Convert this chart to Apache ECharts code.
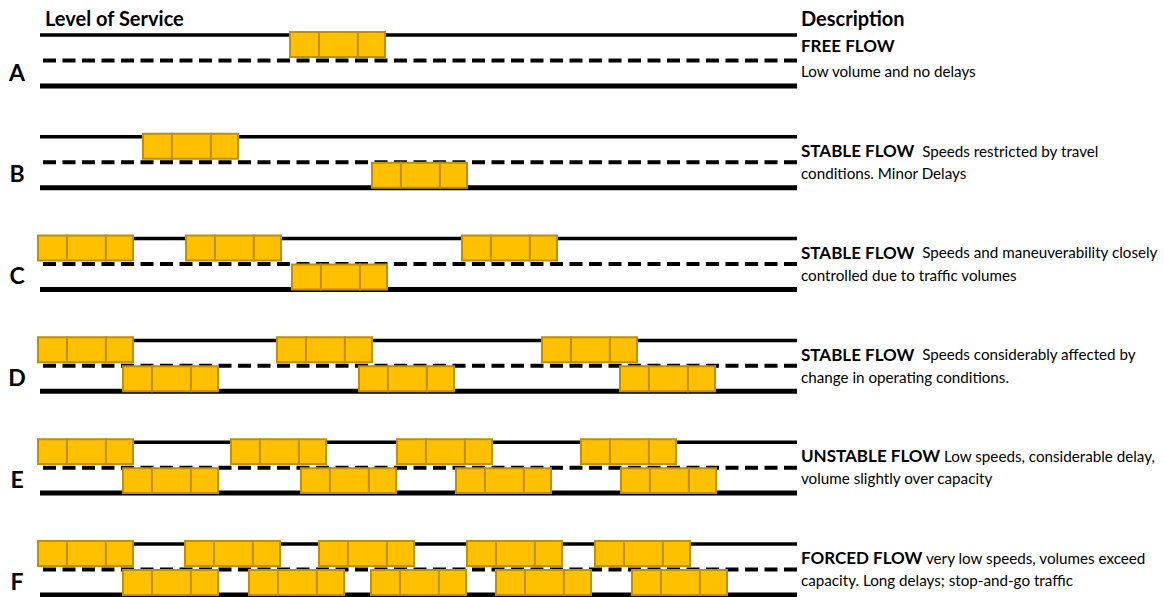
<!DOCTYPE html>
<html>
<head>
<meta charset="utf-8">
<script src="https://cdn.jsdelivr.net/npm/echarts@6/dist/echarts.min.js"></script>
<style>
html,body{margin:0;padding:0;background:#fff;}
#chart{width:1164px;height:597px;}
</style>
</head>
<body>
<div id="chart"></div>
<script>
// ---- data ----
const levels = ['A', 'B', 'C', 'D', 'E', 'F'];
const flowTitles = ['FREE FLOW', 'STABLE FLOW', 'STABLE FLOW', 'STABLE FLOW', 'UNSTABLE FLOW', 'FORCED FLOW'];
const descLine1 = ['', '  Speeds restricted by travel', '  Speeds and maneuverability closely', '  Speeds considerably affected by', ' Low speeds, considerable delay,', ' very low speeds, volumes exceed'];
const descLine2 = ['Low volume and no delays', 'conditions. Minor Delays', 'controlled due to traffic volumes', 'change in operating conditions.', 'volume slightly over capacity', 'capacity. Long delays; stop-and-go traffic'];
// car start positions along the road (road units), per level
const upperLaneCars = [
  [250],
  [103],
  [-2, 146, 422],
  [-2, 237, 502],
  [-2, 191, 357, 541],
  [-2, 145, 279, 427, 555]
];
const lowerLaneCars = [
  [],
  [332],
  [252],
  [83, 319, 580],
  [83, 261, 416, 581],
  [83, 209, 331, 456, 592]
];
const roadLength = 757;
const carLength = 95;
const headerLeft = 'Level of Service';
const headerRight = 'Description';

// ---- build ----
const carData = [];
levels.forEach((lv, i) => {
  upperLaneCars[i].forEach(x => carData.push([x, i, 0]));
  lowerLaneCars[i].forEach(x => carData.push([x, i, 1]));
});
const roadData = levels.map((lv, i) => [i]);

const FONT = 'Lato, "Open Sans", sans-serif';
const partRatio = [0.305, 0.41, 0.285];

function renderRoad(params, api) {
  const i = api.value(0);
  const xs = api.coord([0, i])[0];
  const xe = api.coord([roadLength, i])[0];
  const yTop = api.coord([0, i])[1];
  const yDash = api.coord([0, i + 0.25])[1];
  const yBot = api.coord([0, i + 0.5])[1];
  const xText = api.coord([roadLength + 4, i])[0];
  const yL1 = api.coord([0, i + (i === 0 ? 0.10 : 0.135)])[1];
  const yL2 = api.coord([0, i + 0.355])[1];
  const yLetter = api.coord([0, i + 0.36])[1];
  return {
    type: 'group',
    children: [
      { type: 'line', shape: { x1: xs, y1: yTop, x2: xe, y2: yTop }, style: { stroke: '#000', lineWidth: 3.5 } },
      { type: 'line', shape: { x1: xs + 3, y1: yDash, x2: xe, y2: yDash }, style: { stroke: '#000', lineWidth: 4, lineDash: [13, 6.5] } },
      { type: 'line', shape: { x1: xs, y1: yBot, x2: xe, y2: yBot }, style: { stroke: '#000', lineWidth: 5 } },
      { type: 'text', style: { text: levels[i], x: 17, y: yLetter, align: 'center', verticalAlign: 'middle', font: 'bold 23px ' + FONT, fill: '#000' } },
      { type: 'text', style: {
          text: '{t|' + flowTitles[i] + '}{d|' + descLine1[i] + '}',
          x: xText, y: yL1, verticalAlign: 'middle',
          rich: {
            t: { fontFamily: FONT, fontWeight: 'bold', fontSize: 17, fill: '#000' },
            d: { fontFamily: FONT, fontSize: 15.2, fill: '#000' }
          }
        } },
      { type: 'text', style: { text: descLine2[i], x: xText, y: yL2, verticalAlign: 'middle', font: '15.2px ' + FONT, fill: '#000' } }
    ]
  };
}

function renderCar(params, api) {
  const start = api.value(0);
  const row = api.value(1);
  const lane = api.value(2);
  const x0 = api.coord([start, row])[0];
  const x1 = api.coord([start + carLength, row])[0];
  const yA = lane === 0 ? row - 0.03 : row + 0.255;
  const yB = lane === 0 ? row + 0.215 : row + 0.5;
  const y0 = api.coord([0, yA])[1];
  const y1 = api.coord([0, yB])[1];
  const w = x1 - x0;
  let cx = x0;
  const children = partRatio.map(r => {
    const rect = {
      type: 'rect',
      shape: { x: cx, y: y0, width: w * r, height: y1 - y0 },
      style: { fill: '#FFC000', stroke: '#BF9000', lineWidth: 2 }
    };
    cx += w * r;
    return rect;
  });
  return { type: 'group', children };
}

const chart = echarts.init(document.getElementById('chart'), null, { renderer: 'svg' });
chart.setOption({
  backgroundColor: '#fff',
  animation: false,
  title: [
    { text: headerLeft, left: 40, top: 3, textStyle: { fontFamily: FONT, fontWeight: 'bold', fontSize: 20, color: '#000' } },
    { text: headerRight, left: 796, top: 3, textStyle: { fontFamily: FONT, fontWeight: 'bold', fontSize: 20, color: '#000' } }
  ],
  grid: { left: 40, width: 757, top: 35, height: 509 },
  xAxis: { type: 'value', min: 0, max: roadLength, show: false },
  yAxis: { type: 'value', min: 0, max: 5, inverse: true, show: false },
  series: [
    { type: 'custom', name: 'roads', data: roadData, renderItem: renderRoad, clip: false, z: 1, silent: true },
    { type: 'custom', name: 'cars', data: carData, renderItem: renderCar, clip: false, z: 2, silent: true }
  ]
});
</script>
</body>
</html>
